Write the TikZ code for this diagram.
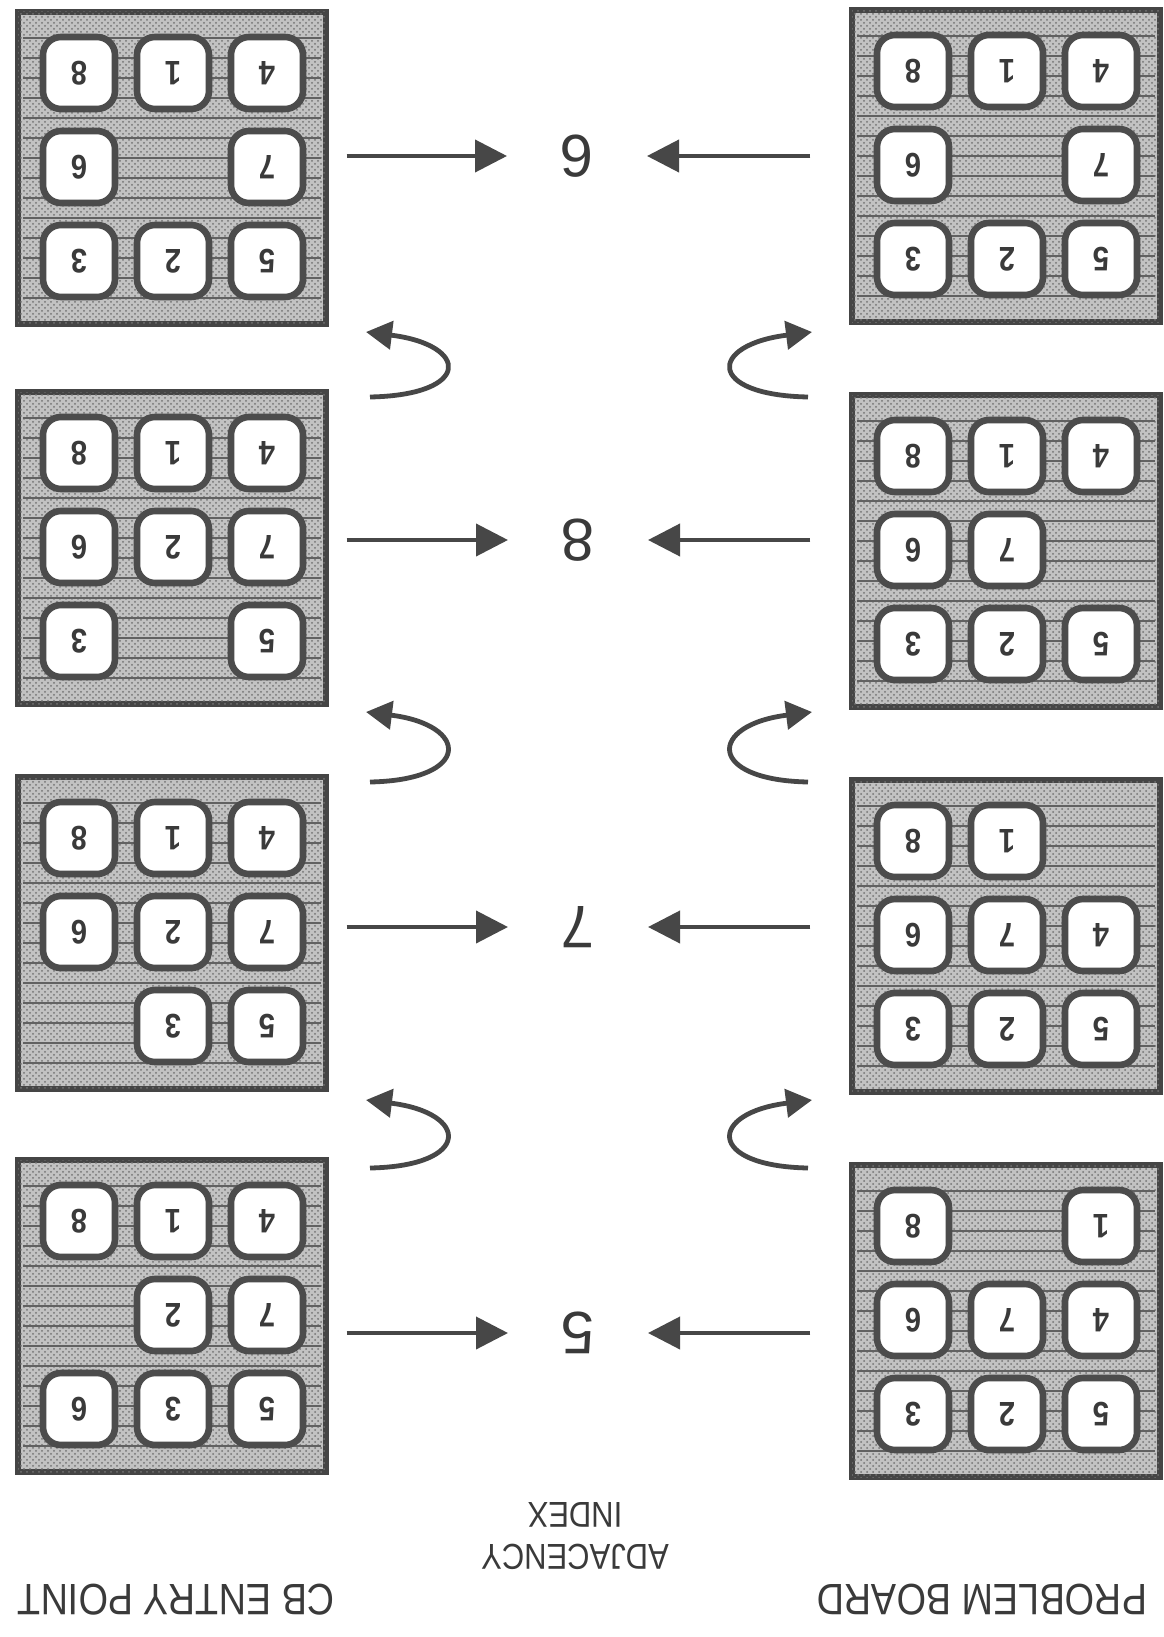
\documentclass[tikz,border=0pt]{standalone}
\usepackage{fontspec}
\setmainfont{Liberation Sans}
\newfontfamily\condfont[FakeStretch=0.86]{Liberation Sans}
\usetikzlibrary{arrows.meta,patterns}
\definecolor{bdr}{HTML}{454545}
\definecolor{tbd}{HTML}{4C4C4C}
\definecolor{dig}{HTML}{3A3A3A}
\definecolor{arc}{HTML}{474747}
\definecolor{stip}{HTML}{C2C2C2}
\tikzset{
 boardbox/.style={draw=bdr, line width=2.7pt, fill=stip, minimum width=154pt, minimum height=156pt, inner sep=0pt,
   postaction={pattern=crosshatch dots, pattern color=black!55}},
 tile/.style={draw=tbd, line width=3.3pt, fill=white, rounded corners=9pt, minimum size=36pt, inner sep=0pt,
   font=\condfont\fontsize{17}{17}\selectfont\bfseries, text=dig, rotate=180},
 midnum/.style={font=\fontsize{30}{30}\selectfont, text=dig, rotate=180, inner sep=0pt},
 capt/.style={font=\condfont\fontsize{22}{22}\selectfont, text=dig, rotate=180, inner sep=0pt},
 capsmall/.style={font=\condfont\fontsize{18}{21}\selectfont, text=dig, rotate=180, inner sep=0pt, align=center},
 arr/.style={draw=arc, line width=2pt, -{Triangle[length=16pt,width=16pt]}},
 carr/.style={draw=arc, line width=2.4pt, -{Triangle[length=13pt,width=14pt]}},
 hline/.style={draw=black!62, line width=0.7pt}
}
\newcommand\drawboard[4]{%
  \node[boardbox] (#1) at ({#2+154},{#3+156}) {};
  \foreach \k in {0,...,13} \draw[hline] ({#2+5},{#3+26+\k*20}) -- ({#2+303},{#3+26+\k*20});
  \foreach \d [count=\i from 0] in {#4} {%
    \pgfmathtruncatemacro\rr{\i/3}%
    \pgfmathtruncatemacro\cc{mod(\i,3)}%
    \ifnum\d>0 \node[tile] (#1-\i) at ({#2+61+\cc*94},{#3+61+\rr*94}) {\d};\fi
  }%
}
\begin{document}
\begin{tikzpicture}[x=0.5pt,y=-0.5pt]
\useasboundingbox (0,0) rectangle (1163,1637);
\fill[white] (0,0) rectangle (1163,1637);
% boards
\drawboard{L1}{18}{12}{8,1,4,6,0,7,3,2,5}
\drawboard{R1}{852}{10}{8,1,4,6,0,7,3,2,5}
\drawboard{L2}{18}{392}{8,1,4,6,2,7,3,0,5}
\drawboard{R2}{852}{395}{8,1,4,6,7,0,3,2,5}
\drawboard{L3}{18}{777}{8,1,4,6,2,7,0,3,5}
\drawboard{R3}{852}{780}{8,1,0,6,7,4,3,2,5}
\drawboard{L4}{18}{1160}{8,1,4,0,2,7,6,3,5}
\drawboard{R4}{852}{1165}{8,0,1,6,7,4,3,2,5}
% middle numbers
\node[midnum] (n1) at (577,156) {6};
\node[midnum] (n2) at (578,540) {8};
\node[midnum] (n3) at (578,927) {7};
\node[midnum] (n4) at (578,1333) {5};
% straight arrows
\foreach \k in {1,2,3,4} {
  \draw[arr, shorten <=9pt, shorten >=35pt] (L\k.east |- n\k.center) -- (n\k.center);
  \draw[arr, shorten <=19.5pt, shorten >=35pt] (R\k.west |- n\k.center) -- (n\k.center);
}
% curved arrows
\foreach \h/\t [count=\j] in {332/397, 712/782, 1100/1168} {
  \coordinate (lt\j) at (370,\t);
  \coordinate (lh\j) at (366,\h);
  \coordinate (rt\j) at (808,\t);
  \coordinate (rh\j) at (812,\h);
  \draw[carr] (lt\j) .. controls (472,\t-2) and (470,\h+13) .. (lh\j);
  \draw[carr] (rt\j) .. controls (706,\t-2) and (708,\h+13) .. (rh\j);
}
% captions
\node[capt] (pb) at (982,1600) {PROBLEM BOARD};
\node[capt] (cb) at (176,1600) {CB ENTRY POINT};
\node[capsmall] (ai) at (575,1536) {ADJACENCY\\INDEX};
\end{tikzpicture}
\end{document}
